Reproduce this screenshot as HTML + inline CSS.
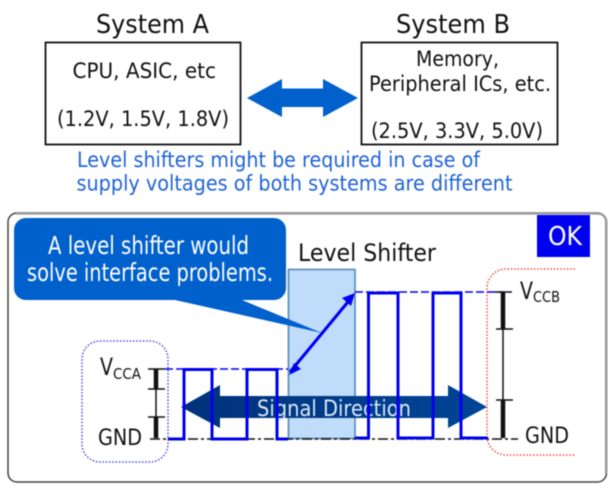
<!DOCTYPE html>
<html><head><meta charset="utf-8"><style>
html,body{margin:0;padding:0;background:#fff;width:615px;height:490px;overflow:hidden}
svg{display:block;filter:blur(.45px)}
text{font-family:"DejaVu Sans","Liberation Sans",sans-serif;fill:#111}
</style></head><body>
<svg width="615" height="490" viewBox="0 0 615 490" xmlns="http://www.w3.org/2000/svg">
<defs><linearGradient id="g" x1="0" x2="1" y1="0" y2="0"><stop offset="0" stop-color="#00327a"/><stop offset="1" stop-color="#004596"/></linearGradient></defs>

<text x="96" y="33" font-size="26" textLength="113" lengthAdjust="spacingAndGlyphs">System A</text>
<text x="396" y="33" font-size="26" textLength="114" lengthAdjust="spacingAndGlyphs">System B</text>
<rect x="45.5" y="42.5" width="195" height="102" fill="#fff" stroke="#111" stroke-width="1.800"/>
<rect x="361.5" y="42.5" width="196" height="102" fill="#fff" stroke="#111" stroke-width="1.800"/>
<text x="72.5" y="78" font-size="21" textLength="143.500" lengthAdjust="spacingAndGlyphs">CPU, ASIC, etc</text>
<text x="57" y="126" font-size="21" textLength="172" lengthAdjust="spacingAndGlyphs">(1.2V, 1.5V, 1.8V)</text>
<text x="416" y="66" font-size="21" textLength="83" lengthAdjust="spacingAndGlyphs">Memory,</text>
<text x="369" y="91" font-size="21" textLength="182" lengthAdjust="spacingAndGlyphs">Peripheral ICs, etc.</text>
<text x="371" y="138" font-size="21" textLength="172" lengthAdjust="spacingAndGlyphs">(2.5V, 3.3V, 5.0V)</text>
<polygon points="247,98 282,79 282,88.500 323,88.500 323,79 358,98 323,117 323,107 282,107 282,117" fill="#0060cc"/>
<text x="77" y="167" font-size="21.500" style="fill:#1f63d6" textLength="403" lengthAdjust="spacingAndGlyphs">Level shifters might be required in case of</text>
<text x="76.500" y="190.500" font-size="21.500" style="fill:#1f63d6" textLength="436" lengthAdjust="spacingAndGlyphs">supply voltages of both systems are different</text>

<rect x="8" y="213" width="598.500" height="269" rx="9" fill="#fff" stroke="#444" stroke-width="1.500"/>
<path d="M16 213.500H598a8 8 0 0 1 8 8V474" fill="none" stroke="#999" stroke-width="2.200"/>

<rect x="288.500" y="269.500" width="66.500" height="169" fill="#bfdcfa" stroke="#5f93bd" stroke-width="1.800"/>
<polygon points="175,300 242,300 322,333" fill="#0060cc"/>
<rect x="14" y="218" width="272" height="82" rx="12" fill="#0060cc"/>
<text x="48" y="254" font-size="25" style="fill:#fff" textLength="201" lengthAdjust="spacingAndGlyphs">A level shifter would</text>
<text x="27" y="281" font-size="25" style="fill:#fff" textLength="246" lengthAdjust="spacingAndGlyphs">solve interface problems.</text>
<text x="298" y="261" font-size="24" textLength="138" lengthAdjust="spacingAndGlyphs">Level Shifter</text>

<rect x="537" y="215" width="53" height="42" fill="#0000f0"/>
<text x="548" y="245" font-size="26" style="fill:#fff" textLength="34" lengthAdjust="spacingAndGlyphs">OK</text>

<rect x="82" y="341" width="86" height="121" rx="18" fill="none" stroke="#4a4af0" stroke-width="1.500" stroke-dasharray="1.500 1.800"/>
<path d="M575 269H506a19 19 0 0 0-19 19V436a19 19 0 0 0 19 19H575" fill="none" stroke="#f04a4a" stroke-width="1.500" stroke-dasharray="1.500 1.800"/>

<line x1="150" y1="439" x2="518" y2="439" stroke="#111" stroke-width="1.500" stroke-dasharray="10 3 3 3"/>
<line x1="165" y1="369" x2="288" y2="369" stroke="#0000f0" stroke-width="1.500" stroke-dasharray="8 3"/>
<line x1="355" y1="292" x2="503" y2="292" stroke="#0000f0" stroke-width="1.500" stroke-dasharray="8 3"/>

<polygon points="181,407 220,385 220,396 448,396 448,385 487,407 448,428 448,418 220,418 220,428" fill="url(#g)"/>
<text x="257" y="416" font-size="22" style="fill:#dbe8f8" textLength="154" lengthAdjust="spacingAndGlyphs">Signal Direction</text>

<path d="M168 439H184V369.500H212V439H247V369.500H277V439H288" fill="none" stroke="#0000f0" stroke-width="3"/>
<path d="M355 438H368.500V293H398V438H433V293H461V438H488" fill="none" stroke="#0000f0" stroke-width="3"/>
<line x1="290" y1="372" x2="352" y2="297" stroke="#0000f0" stroke-width="3"/>
<polygon points="355,293 351,306 342,298" fill="#0000f0"/>
<polygon points="289,375 294,363 301,369" fill="#0000f0"/>

<g stroke="#111">
<line x1="156" y1="369" x2="156" y2="389" stroke-width="4.500"/>
<line x1="156" y1="389" x2="156" y2="417" stroke-width="1.500"/>
<line x1="156" y1="417" x2="156" y2="438" stroke-width="4.500"/>
<line x1="148" y1="369" x2="165" y2="369" stroke-width="1.500"/>
<line x1="148" y1="389" x2="165" y2="389" stroke-width="1.500"/>
<line x1="148" y1="417" x2="165" y2="417" stroke-width="1.500"/>
<line x1="503" y1="292" x2="503" y2="329" stroke-width="4.500"/>
<line x1="503" y1="329" x2="503" y2="400" stroke-width="1.500"/>
<line x1="503" y1="400" x2="503" y2="438" stroke-width="4.500"/>
<line x1="495" y1="292" x2="512" y2="292" stroke-width="1.500"/>
<line x1="496" y1="329" x2="513" y2="329" stroke-width="1.500"/>
<line x1="496" y1="400" x2="513" y2="400" stroke-width="1.500"/>
</g>

<text x="100" y="375" font-size="24" textLength="13" lengthAdjust="spacingAndGlyphs">V</text>
<text x="113" y="379" font-size="15" textLength="28" lengthAdjust="spacingAndGlyphs">CCA</text>
<text x="98" y="445" font-size="22" textLength="44" lengthAdjust="spacingAndGlyphs">GND</text>
<text x="520" y="299" font-size="24" textLength="13" lengthAdjust="spacingAndGlyphs">V</text>
<text x="533" y="302" font-size="15" textLength="27" lengthAdjust="spacingAndGlyphs">CCB</text>
<text x="525" y="443" font-size="22" textLength="44" lengthAdjust="spacingAndGlyphs">GND</text>
</svg>
</body></html>
